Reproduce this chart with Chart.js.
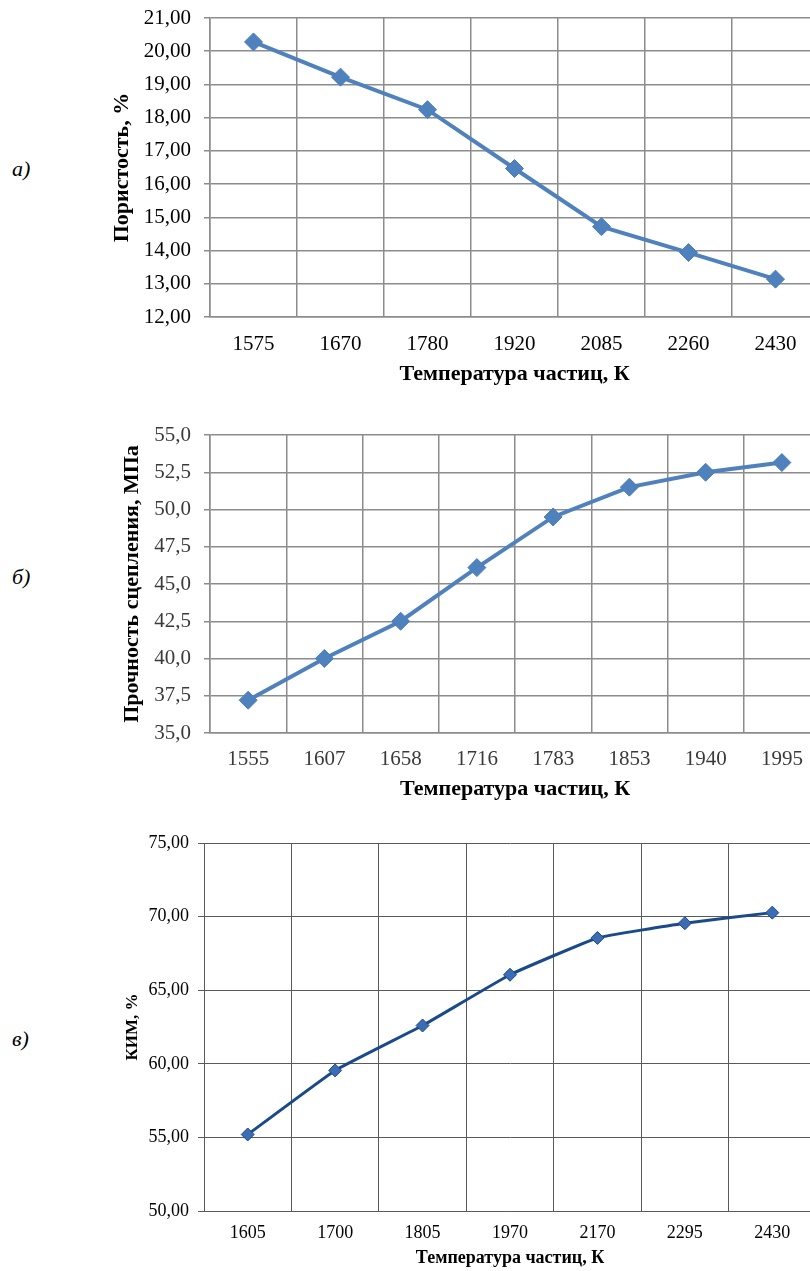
<!DOCTYPE html>
<html>
<head>
<meta charset="utf-8">
<script src="https://cdn.jsdelivr.net/npm/chart.js@4.4.1/dist/chart.umd.min.js"></script>
<style>
    html, body { margin: 0; padding: 0; background: #fff; }
    body { width: 810px; height: 1271px; overflow: hidden; position: relative; }
    .box { position: absolute; left: 0; }
    .tag { position: absolute; left: 12px; font: italic 22px 'Liberation Serif', 'Times New Roman', serif; color: #000; }
</style>
</head>
<body>
<div class="tag" style="top:156px">а)</div>
<div class="tag" style="top:564px">б)</div>
<div class="tag" style="top:1026px">в)</div>
<div class="box" style="top:0; width:819px; height:400px"><canvas id="poreChart" width="819" height="400"></canvas></div>
<div class="box" style="top:415px; width:820px; height:400px"><canvas id="bondChart" width="820" height="400"></canvas></div>
<div class="box" style="top:825px; width:816px; height:446px"><canvas id="kimChart" width="816" height="446"></canvas></div>
<script>
// a) porosity vs particle temperature
const poreTemps = ['1575', '1670', '1780', '1920', '2085', '2260', '2430'];
const porosity = [20.28, 19.22, 18.24, 16.47, 14.72, 13.94, 13.14];

// б) bond strength vs particle temperature
const bondTemps = ['1555', '1607', '1658', '1716', '1783', '1853', '1940', '1995'];
const bondStrength = [37.2, 40.0, 42.5, 46.1, 49.5, 51.5, 52.5, 53.15];

// в) material utilisation vs particle temperature
const kimTemps = ['1605', '1700', '1805', '1970', '2170', '2295', '2430'];
const kim = [55.2, 59.55, 62.6, 66.05, 68.55, 69.55, 70.27];

const SERIF = "'Liberation Serif', 'Times New Roman', serif";
const X_TITLE = 'Температура частиц, К';

function comma(decimals) {
    return value => Number(value).toFixed(decimals).replace('.', ',');
}

function makeChart(id, cfg) {
    new Chart(document.getElementById(id).getContext('2d'), {
        type: 'line',
        data: {
            labels: cfg.labels,
            datasets: [{
                data: cfg.values,
                borderColor: cfg.lineColor,
                borderWidth: cfg.lineWidth,
                backgroundColor: cfg.markerFill,
                pointBackgroundColor: cfg.markerFill,
                pointBorderColor: cfg.markerBorder,
                pointBorderWidth: 1,
                pointStyle: 'rectRot',
                pointRadius: cfg.markerRadius,
                tension: cfg.tension,
                fill: false,
                clip: 20
            }]
        },
        options: {
            responsive: false,
            animation: false,
            devicePixelRatio: 1,
            layout: { autoPadding: false, padding: { left: cfg.padLeft, top: cfg.padTop, right: 0, bottom: cfg.padBottom } },
            plugins: { legend: { display: false }, tooltip: { enabled: false } },
            scales: {
                x: {
                    offset: true,
                    grid: { offset: true, color: cfg.gridColor, lineWidth: cfg.gridWidth, drawTicks: false },
                    border: { color: cfg.gridColor, width: cfg.gridWidth },
                    ticks: { color: cfg.tickColor, font: { family: SERIF, size: cfg.tickSize }, padding: cfg.xTickPad, maxRotation: 0, autoSkip: false },
                    title: { display: true, text: X_TITLE, color: '#000', font: { family: SERIF, size: cfg.titleSize, weight: 'bold' }, padding: 0 },
                    afterFit: s => { s.height = cfg.xHeight; s.paddingLeft = 0; s.paddingRight = 0; }
                },
                y: {
                    min: cfg.min, max: cfg.max,
                    grid: { color: cfg.gridColor, lineWidth: cfg.gridWidth, tickLength: 6 },
                    border: { color: cfg.gridColor, width: cfg.gridWidth },
                    ticks: { stepSize: cfg.step, color: cfg.tickColor, font: { family: SERIF, size: cfg.tickSize }, padding: cfg.yTickPad, callback: comma(cfg.decimals) },
                    title: { display: true, text: cfg.yTitle, color: '#000', font: { family: SERIF, size: cfg.yTitleSize, weight: 'bold' }, padding: 0 },
                    afterFit: s => { s.width = cfg.yWidth; s.paddingTop = 0; s.paddingBottom = 0; }
                }
            }
        }
    });
}

makeChart('poreChart', {
    labels: poreTemps, values: porosity,
    min: 12, max: 21, step: 1, decimals: 2,
    yTitle: 'Пористость, %',
    lineColor: '#4F81BD', lineWidth: 4, markerFill: '#4F81BD', markerBorder: '#4A7EBB', markerRadius: 9, tension: 0,
    gridColor: '#8C8C8C', gridWidth: 1.5, tickColor: '#000',
    tickSize: 21, titleSize: 22, yTitleSize: 22,
    padLeft: 109, yWidth: 101, padTop: 18, padBottom: 12, xHeight: 71,
    xTickPad: 15, yTickPad: 13
});

makeChart('bondChart', {
    labels: bondTemps, values: bondStrength,
    min: 35, max: 55, step: 2.5, decimals: 1,
    yTitle: 'Прочность сцепления, МПа',
    lineColor: '#4F81BD', lineWidth: 4, markerFill: '#4F81BD', markerBorder: '#4A7EBB', markerRadius: 9, tension: 0,
    gridColor: '#8C8C8C', gridWidth: 1.5, tickColor: '#3A3A3A',
    tickSize: 21, titleSize: 22, yTitleSize: 22,
    padLeft: 119, yWidth: 91, padTop: 20, padBottom: 12, xHeight: 70,
    xTickPad: 14, yTickPad: 13
});

makeChart('kimChart', {
    labels: kimTemps, values: kim,
    min: 50, max: 75, step: 5, decimals: 2,
    yTitle: 'КИМ, %',
    lineColor: '#1B4A8A', lineWidth: 3, markerFill: '#3C6DB4', markerBorder: '#1B4A8A', markerRadius: 6.5, tension: 0.1,
    gridColor: '#5A5A5A', gridWidth: 1, tickColor: '#000',
    tickSize: 18, titleSize: 18, yTitleSize: 17,
    padLeft: 122, yWidth: 82, padTop: 18, padBottom: 2, xHeight: 58,
    xTickPad: 11, yTickPad: 9
});
</script>
</body>
</html>
